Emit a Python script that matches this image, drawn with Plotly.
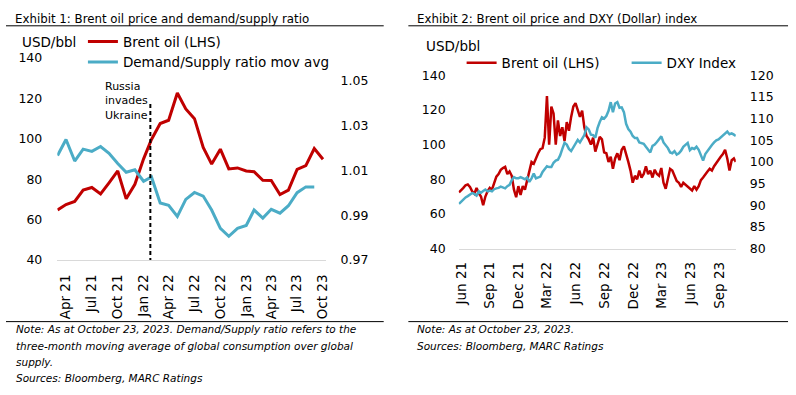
import pandas as pd
import plotly.graph_objects as go

# ---------------- Exhibit 1 data (monthly, month-end) ----------------
month_dates = pd.date_range("2021-03-31", "2023-10-31", freq="ME")
brent_monthly = [64.8, 67.5, 69.0, 74.6, 75.9, 72.7, 78.2, 84.1, 70.3, 77.5,
                 90.1, 99.7, 107.6, 109.2, 122.7, 114.8, 110.0, 95.7, 87.5, 94.9,
                 85.1, 85.6, 84.1, 83.7, 79.5, 79.4, 72.4, 74.6, 84.9, 86.7,
                 95.2, 89.9]
ds_ratio = [1.0166, 1.0237, 1.0141, 1.0194, 1.0184, 1.0206, 1.0176, 1.0130, 1.0091, 1.0102,
            1.0051, 1.0070, 0.9954, 0.9944, 0.9894, 0.9970, 1.0001, 0.9985, 0.9923, 0.9841,
            0.9806, 0.9841, 0.9854, 0.9923, 0.9887, 0.9926, 0.9909, 0.9942, 1.0000, 1.0026,
            1.0026]
ex1_ticks = pd.date_range("2021-04-30", "2023-10-31", freq="3ME")
ex1_ticktext = ["Apr 21", "Jul 21", "Oct 21", "Jan 22", "Apr 22", "Jul 22",
                "Oct 22", "Jan 23", "Apr 23", "Jul 23", "Oct 23"]
event_date = "2022-02-24"
event_top = 118.6
event_label = "Russia<br>invades<br>Ukraine"

# ---------------- Exhibit 2 data (weekly) ----------------
week_dates = list(pd.date_range("2021-05-25", periods=126, freq="7D")) + [pd.Timestamp("2023-10-23")]
brent_weekly = [72.4, 73.5, 75.0, 76.5, 77.0, 75.5, 73.0, 71.7, 75.0, 72.0,
                70.0, 65.0, 70.0, 73.0, 75.0, 74.0, 78.0, 81.5, 83.0, 85.4,
                86.5, 87.2, 83.0, 84.5, 82.0, 74.0, 69.6, 76.0, 71.0, 76.0,
                74.0, 80.0, 86.0, 90.0, 89.0, 92.5, 95.0, 97.4, 98.0, 104.0,
                128.0, 100.0, 122.0, 118.0, 100.0, 114.0, 105.0, 110.0, 102.0, 113.0,
                108.0, 116.0, 122.0, 124.0, 120.0, 116.0, 119.6, 110.0, 105.0, 103.0,
                100.0, 104.0, 96.0, 100.0, 104.5, 103.0, 95.5, 95.0, 90.0, 93.0,
                86.0, 92.0, 95.0, 91.0, 97.0, 99.0, 95.0, 90.0, 85.0, 78.0,
                82.0, 80.0, 85.0, 81.0, 83.0, 87.5, 83.0, 85.0, 81.0, 85.5,
                83.0, 82.0, 86.5, 78.0, 74.5, 80.0, 86.0, 85.0, 82.0, 79.0,
                78.0, 75.5, 78.0, 77.0, 76.0, 74.5, 73.5, 76.0, 74.0, 76.0,
                79.5, 81.0, 83.0, 84.5, 86.0, 85.0, 87.5, 89.5, 91.0, 93.0,
                94.5, 97.0, 92.0, 85.0, 91.0, 92.0, 90.0]
dxy_weekly = [90.3, 90.8, 91.5, 91.8, 92.1, 92.5, 92.8, 92.6, 92.2, 93.2,
              92.9, 93.3, 93.6, 93.2, 93.4, 93.2, 93.7, 93.9, 94.0, 94.3,
              94.1, 93.9, 94.4, 94.7, 95.8, 96.5, 96.2, 96.2, 96.5, 96.3,
              96.0, 96.4, 95.4, 96.2, 97.3, 96.2, 96.4, 96.6, 97.7, 98.3,
              99.0, 98.8, 98.8, 99.8, 100.3, 100.5, 101.5, 103.0, 104.4, 104.0,
              103.0, 102.5, 103.3, 104.2, 105.1, 104.5, 105.5, 106.2, 108.0, 107.5,
              106.3, 106.2, 105.6, 107.8, 109.2, 110.3, 110.0, 110.6, 111.8, 113.8,
              111.5, 113.5, 113.8, 112.5, 112.6, 111.5, 108.8, 107.6, 107.0, 106.0,
              105.5, 105.5, 104.5, 104.4, 104.2, 103.5, 102.9, 102.2, 103.7, 104.0,
              104.6, 105.2, 105.9, 104.5, 103.8, 103.2, 102.2, 102.0, 102.5, 101.7,
              102.0, 102.6, 103.5, 104.0, 104.4, 102.7, 103.2, 103.0, 103.5, 102.8,
              101.5, 100.3, 101.8, 102.6, 103.4, 103.9, 104.5, 105.0, 105.2, 105.6,
              106.2, 106.6, 107.0, 106.4, 106.6, 106.3, 106.0]
ex2_ticks = pd.date_range("2021-06-01", "2023-09-01", freq="3MS")
ex2_ticktext = ["Jun 21", "Sep 21", "Dec 21", "Mar 22", "Jun 22", "Sep 22",
                "Dec 22", "Mar 23", "Jun 23", "Sep 23"]

RED = "#C00000"
BLUE = "#4BACC6"
FONT = "DejaVu Sans"
W, H = 796, 395


def px(x):
    return x / W


def py(y):
    return (H - y) / H


fig = go.Figure()
fig.add_trace(go.Scatter(x=month_dates, y=brent_monthly, name="Brent oil (LHS)", mode="lines",
                         line=dict(color=RED, width=3), xaxis="x", yaxis="y", legend="legend"))
fig.add_trace(go.Scatter(x=month_dates[:len(ds_ratio)], y=ds_ratio, name="Demand/Supply ratio mov avg",
                         mode="lines", line=dict(color=BLUE, width=3), xaxis="x", yaxis="y2",
                         legend="legend"))
fig.add_trace(go.Scatter(x=week_dates, y=brent_weekly, name="Brent oil (LHS)", mode="lines",
                         line=dict(color=RED, width=2.5), xaxis="x2", yaxis="y3", legend="legend2"))
fig.add_trace(go.Scatter(x=week_dates, y=dxy_weekly, name="DXY Index", mode="lines",
                         line=dict(color=BLUE, width=2.5), xaxis="x2", yaxis="y4", legend="legend2"))

ytickfont = dict(family=FONT, size=12.5, color="#000000")
xtickfont = dict(family=FONT, size=13.5, color="#000000")
common_x = dict(type="date", showgrid=False, zeroline=False, showline=True, linecolor="#D9D9D9",
                linewidth=1, ticks="", tickangle=-90, tickfont=xtickfont, fixedrange=True)
common_y = dict(showgrid=False, zeroline=False, showline=False, ticks="", tickfont=ytickfont)

fig.update_layout(
    width=W, height=H, margin=dict(l=0, r=0, t=0, b=0),
    paper_bgcolor="white", plot_bgcolor="white",
    font=dict(family=FONT, color="#000000"),
    xaxis=dict(common_x, domain=[px(52), px(324)], anchor="y",
               range=["2021-03-30", "2023-11-09"], tickvals=ex1_ticks, ticktext=ex1_ticktext,
               ticklabelstandoff=8),
    yaxis=dict(common_y, domain=[py(262), py(52)], anchor="x", range=[40, 140], dtick=20,
               ticklabelstandoff=14),
    yaxis2=dict(common_y, overlaying="y", side="right", anchor="x", range=[0.97, 1.06],
                tick0=0.97, dtick=0.02, tickformat=".2f", ticklabelstandoff=14),
    xaxis2=dict(common_x, domain=[px(459), px(740)], anchor="y3",
                range=["2021-05-24", "2023-10-23"], tickvals=ex2_ticks, ticktext=ex2_ticktext,
                ticklabelstandoff=7),
    yaxis3=dict(common_y, domain=[py(250), py(70)], anchor="x2", range=[40, 140], dtick=20,
                ticklabelstandoff=12),
    yaxis4=dict(common_y, overlaying="y3", side="right", anchor="x2", range=[80, 120], dtick=5,
                ticklabelstandoff=13),
    legend=dict(x=px(78), y=py(19), xanchor="left", yanchor="top", orientation="v",
                font=dict(family=FONT, size=13.5), bgcolor="rgba(0,0,0,0)", borderwidth=0,
                tracegroupgap=0),
    legend2=dict(x=px(462), y=py(41), xanchor="left", yanchor="top", orientation="h",
                 font=dict(family=FONT, size=13.5), bgcolor="rgba(0,0,0,0)", borderwidth=0,
                 entrywidth=120),
    showlegend=True,
)

shapes = [
    dict(type="line", xref="paper", yref="paper", x0=0, x1=px(383), y0=py(18.5), y1=py(18.5),
         line=dict(color="black", width=1)),
    dict(type="line", xref="paper", yref="paper", x0=0, x1=px(383), y0=py(326), y1=py(326),
         line=dict(color="black", width=1)),
    dict(type="line", xref="paper", yref="paper", x0=px(408), x1=px(793), y0=py(18.5), y1=py(18.5),
         line=dict(color="black", width=1)),
    dict(type="line", xref="paper", yref="paper", x0=px(408), x1=px(793), y0=py(326), y1=py(326),
         line=dict(color="black", width=1)),
    dict(type="line", xref="x", yref="y", x0=event_date, x1=event_date, y0=39, y1=event_top,
         line=dict(color="black", width=2, dash="4px,3px")),
]
fig.update_layout(shapes=shapes)

title_font = dict(family=FONT, size=11.8, color="black")
note_font = dict(family=FONT, size=10.5, color="black")
ann = [
    dict(text="Exhibit 1: Brent oil price and demand/supply ratio", x=px(7), y=py(11), font=title_font),
    dict(text="Exhibit 2: Brent oil price and DXY (Dollar) index", x=px(415), y=py(11), font=title_font),
    dict(text="USD/bbl", x=px(14), y=py(35), font=dict(family=FONT, size=13.5, color="black")),
    dict(text="USD/bbl", x=px(424), y=py(40), font=dict(family=FONT, size=13.5, color="black")),
    dict(text=event_label, x=px(98), y=py(97), font=dict(family=FONT, size=11, color="black"),
         align="left"),
    dict(text="<i>Note: As at October 23, 2023. Demand/Supply ratio refers to the</i>",
         x=px(8), y=py(334), font=note_font),
    dict(text="<i>three-month moving average of global consumption over global</i>",
         x=px(8), y=py(351), font=note_font),
    dict(text="<i>supply.</i>", x=px(8), y=py(368), font=note_font),
    dict(text="<i>Sources: Bloomberg, MARC Ratings</i>", x=px(8), y=py(385), font=note_font),
    dict(text="<i>Note: As at October 23, 2023.</i>", x=px(415), y=py(334), font=note_font),
    dict(text="<i>Sources: Bloomberg, MARC Ratings</i>", x=px(415), y=py(351), font=note_font),
]
for a in ann:
    a.update(xref="paper", yref="paper", xanchor="left", yanchor="middle", showarrow=False)
fig.update_layout(annotations=ann)

fig.write_html("out.html", config={"displayModeBar": False, "staticPlot": True},
               post_script="document.body.style.margin='0';document.body.style.overflow='hidden';")
